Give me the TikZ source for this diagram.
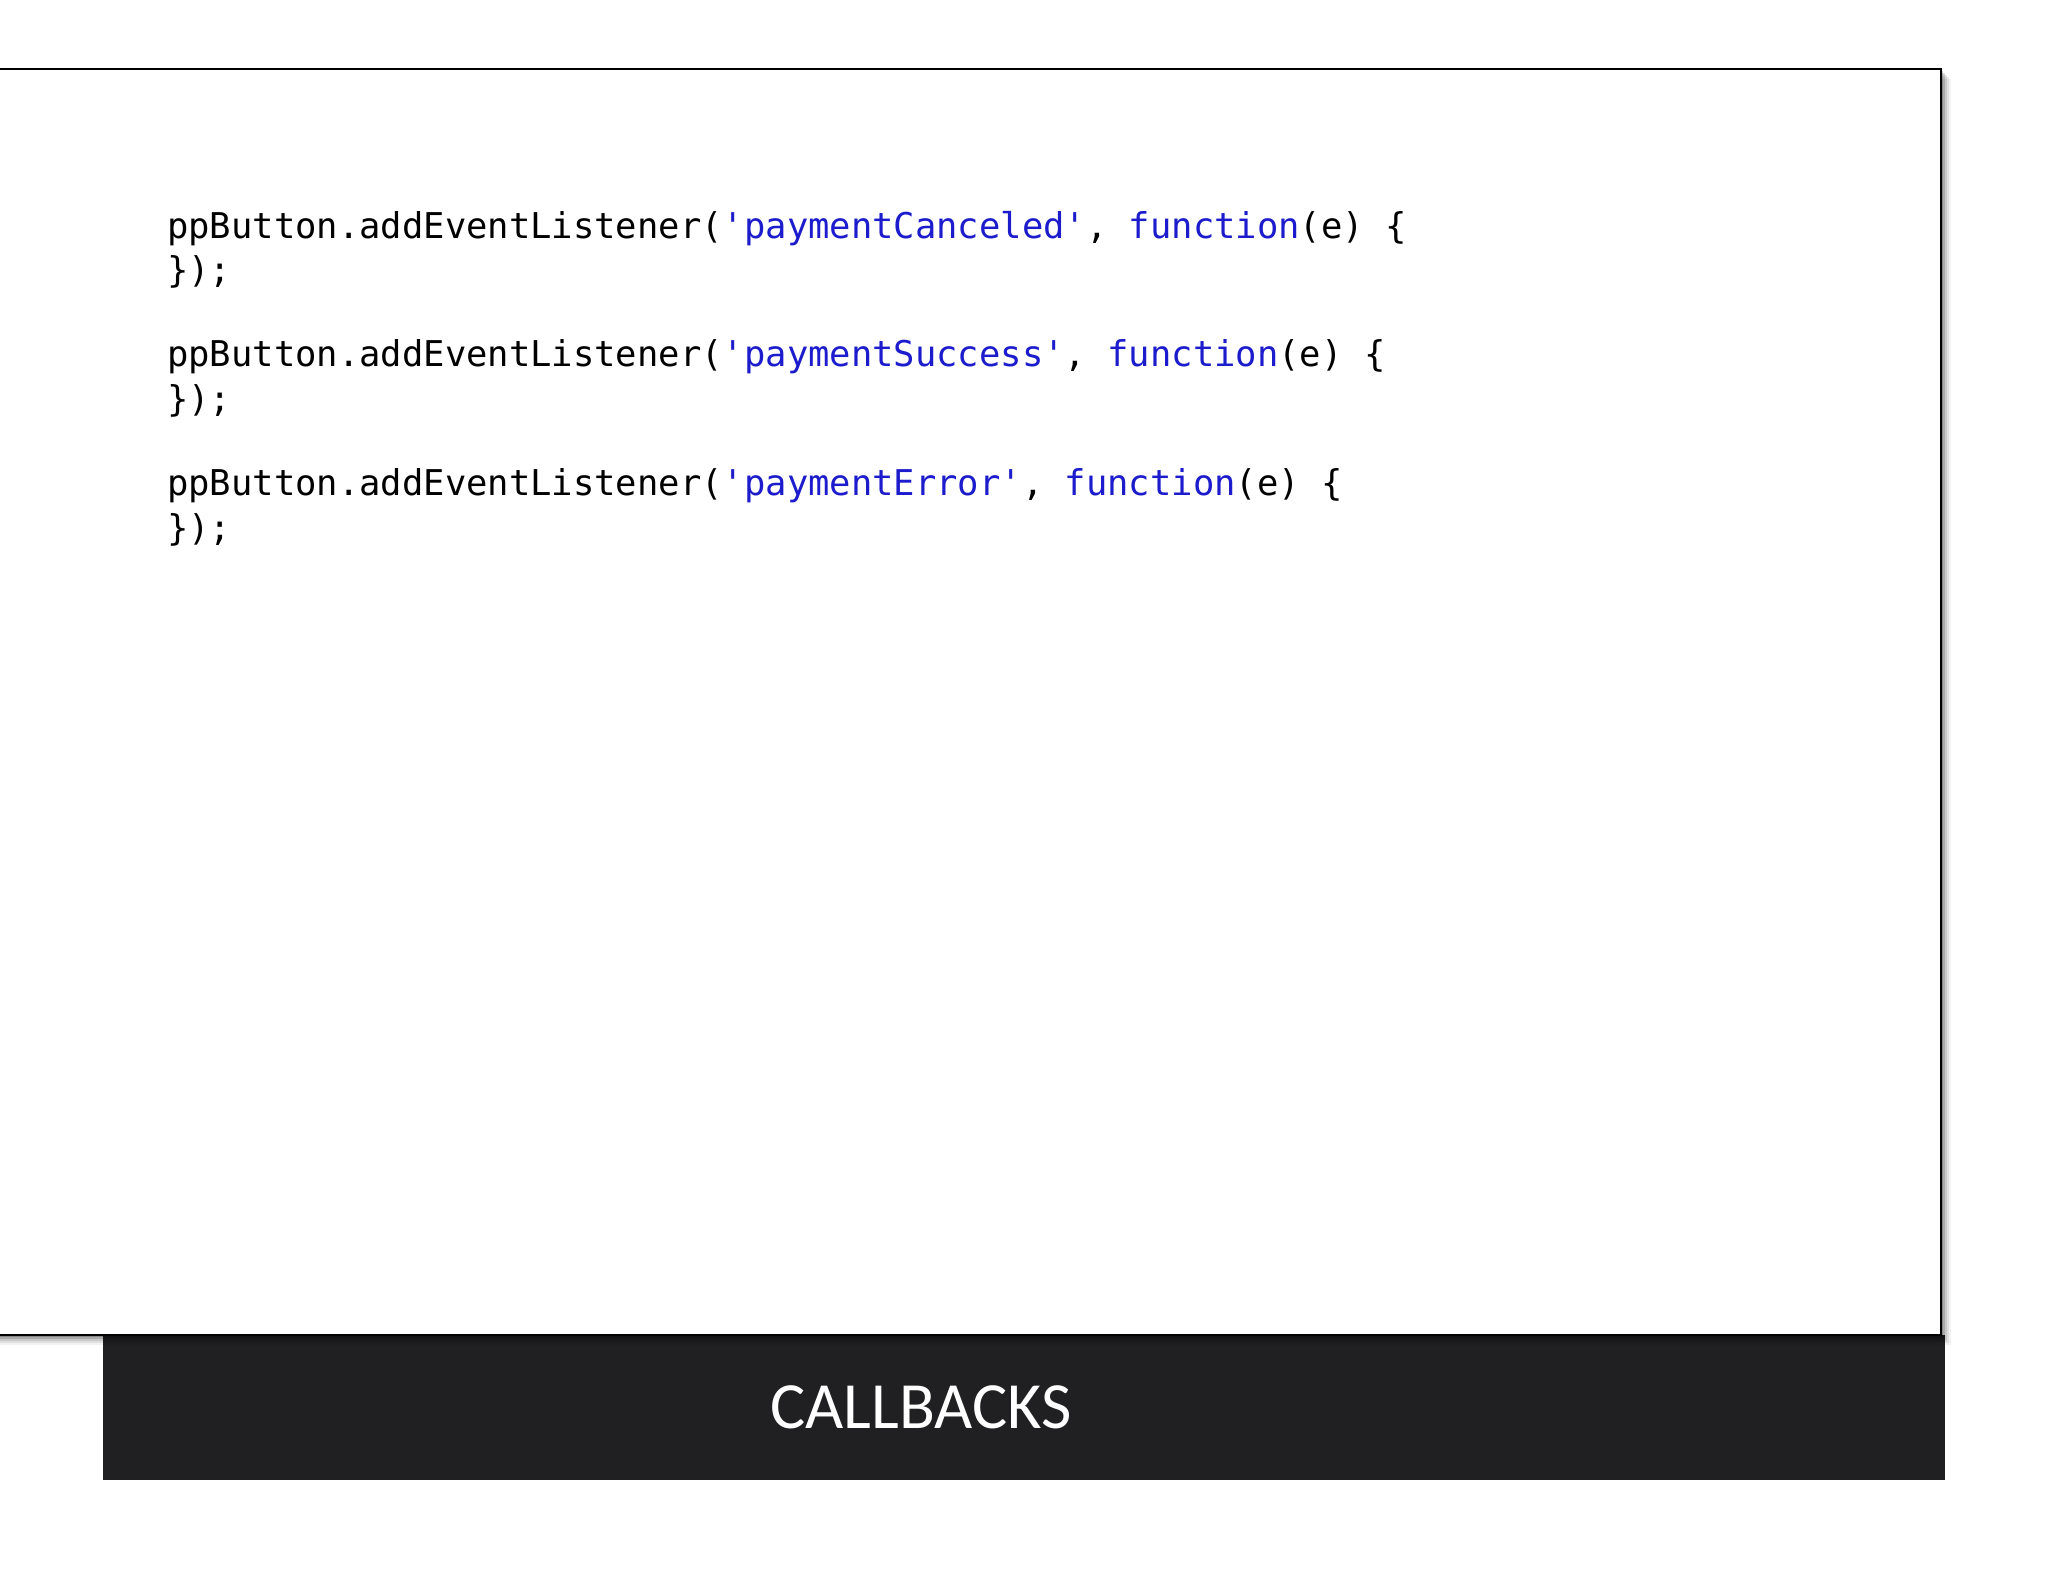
\documentclass[tikz,border=0pt]{standalone}
\usepackage{fontspec}
\setmainfont{Carlito}
\setmonofont{DejaVu Sans Mono}
\definecolor{kw}{RGB}{28,28,205}
\definecolor{bar}{RGB}{32,32,34}
\begin{document}
\begin{tikzpicture}[x=1pt,y=-1pt,
  code/.style={anchor=west,inner sep=0pt,font=\ttfamily\fontsize{35.5}{40}\selectfont}]
\useasboundingbox (0,0) rectangle (2048,1582);
\fill[white] (0,0) rectangle (2048,1582);
% bar
\fill[bar] (103,1335) rectangle (1945,1480);
\node[text=white,font=\fontsize{66}{70}\selectfont] (title) at (921,1407) {CALLBACKS};
% shadow
\foreach \o/\a in {10/0.05,8/0.08,6/0.1,4/0.15,2/0.2}{
  \fill[black,opacity=\a] (0,69+\o) rectangle (1941+\o,1335+\o);}
\draw[fill=white,line width=2.5pt] (-5,69) rectangle (1941,1335);
\node[code] (l1) at (167,229) {ppButton.addEventListener(\textcolor{kw}{'paymentCanceled'}, \textcolor{kw}{function}(e) \{};
\node[code] (l2) at (167,272) {\});};
\node[code] (l3) at (167,357) {ppButton.addEventListener(\textcolor{kw}{'paymentSuccess'}, \textcolor{kw}{function}(e) \{};
\node[code] (l4) at (167,401) {\});};
\node[code] (l5) at (167,486) {ppButton.addEventListener(\textcolor{kw}{'paymentError'}, \textcolor{kw}{function}(e) \{};
\node[code] (l6) at (167,530) {\});};
\end{tikzpicture}
\end{document}
